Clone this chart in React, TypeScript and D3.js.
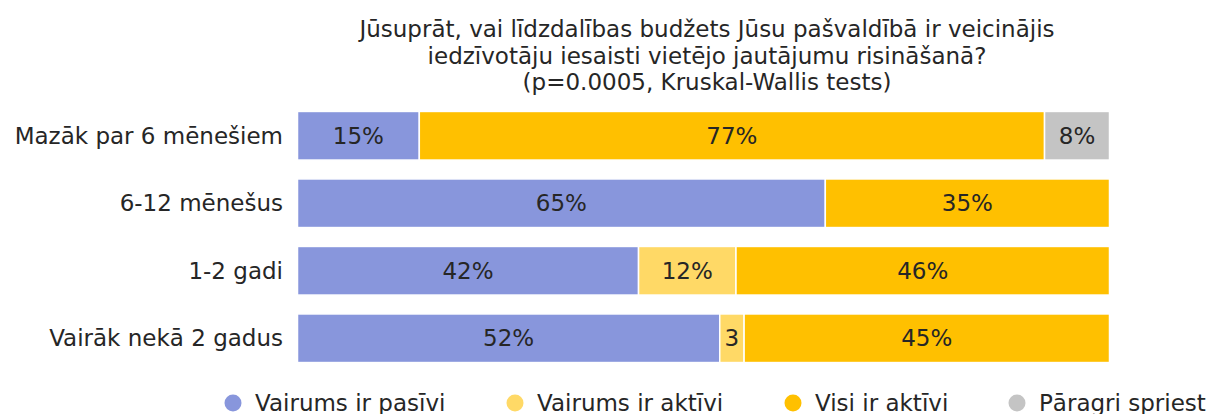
import React, { useEffect, useRef } from 'react';
import * as d3 from 'd3';

const categories = ['Mazāk par 6 mēnešiem', '6-12 mēnešus', '1-2 gadi', 'Vairāk nekā 2 gadus'];
const seriesNames = ['Vairums ir pasīvi', 'Vairums ir aktīvi', 'Visi ir aktīvi', 'Pāragri spriest'];
const seriesColors = ['#8896dc', '#ffd966', '#ffc000', '#c4c4c4'];
// percentages per category, in the order of seriesNames
const pasivi = [15, 65, 42, 52];
const aktiviVairums = [0, 0, 12, 3];
const visiAktivi = [77, 35, 46, 45];
const paragri = [8, 0, 0, 0];
const titleLines = [
  'Jūsuprāt, vai līdzdalības budžets Jūsu pašvaldībā ir veicinājis',
  'iedzīvotāju iesaisti vietējo jautājumu risināšanā?',
  '(p=0.0005, Kruskal-Wallis tests)',
];

const W = 1208;
const H = 414;
const FONT = 'DejaVu Sans, sans-serif';
const FS = 23;

export default function App() {
  const ref = useRef<SVGSVGElement>(null);

  useEffect(() => {
    const svg = d3.select(ref.current);
    svg.selectAll('*').remove();

    const series = [pasivi, aktiviVairums, visiAktivi, paragri];
    const rows = categories.map((c, i) => {
      const r: any = { cat: c };
      seriesNames.forEach((s, j) => (r[s] = series[j][i]));
      return r;
    });
    const stacked = d3.stack().keys(seriesNames)(rows);

    const x = d3.scaleLinear().domain([0, 100]).range([297.5, 1109.5]);
    const y = d3.scaleBand().domain(categories).range([102, 372]).paddingInner(0.28).paddingOuter(0.14);

    // title
    svg.append('g')
      .selectAll('text')
      .data(titleLines)
      .join('text')
      .attr('x', 707)
      .attr('y', (d, i) => 37 + i * 26.5)
      .attr('text-anchor', 'middle')
      .attr('font-family', FONT)
      .attr('font-size', FS)
      .attr('fill', '#262626')
      .text(d => d);

    // category labels
    svg.append('g')
      .selectAll('text')
      .data(categories)
      .join('text')
      .attr('x', 283)
      .attr('y', d => y(d)! + y.bandwidth() / 2)
      .attr('dy', '0.35em')
      .attr('text-anchor', 'end')
      .attr('font-family', FONT)
      .attr('font-size', FS)
      .attr('fill', '#262626')
      .text(d => d);

    const layers = svg.append('g')
      .selectAll('g')
      .data(stacked)
      .join('g')
      .attr('fill', (d, i) => seriesColors[i]);

    layers.selectAll('rect')
      .data(d => d.filter(p => p[1] - p[0] > 0))
      .join('rect')
      .attr('x', p => x(p[0]))
      .attr('y', p => y(p.data.cat as string)!)
      .attr('width', p => x(p[1]) - x(p[0]))
      .attr('height', y.bandwidth())
      .attr('stroke', '#fff')
      .attr('stroke-width', 1.5);

    layers.selectAll('text')
      .data(d => d.filter(p => p[1] - p[0] > 0))
      .join('text')
      .attr('x', p => (x(p[0]) + x(p[1])) / 2)
      .attr('y', p => y(p.data.cat as string)! + y.bandwidth() / 2)
      .attr('dy', '0.35em')
      .attr('text-anchor', 'middle')
      .attr('font-family', FONT)
      .attr('font-size', FS)
      .attr('fill', '#262626')
      .text(p => {
        const v = p[1] - p[0];
        return v < 5 ? `${v}` : `${v}%`;
      });

    // legend
    const legendX = [233, 515, 793, 1017];
    const legend = svg.append('g')
      .selectAll('g')
      .data(seriesNames)
      .join('g')
      .attr('transform', (d, i) => `translate(${legendX[i]},403)`);
    legend.append('circle').attr('r', 8.5).attr('fill', (d, i) => seriesColors[i]);
    legend.append('text')
      .attr('x', 22)
      .attr('dy', '0.35em')
      .attr('font-family', FONT)
      .attr('font-size', FS)
      .attr('fill', '#262626')
      .text(d => d);
  }, []);

  return <svg ref={ref} width={W} height={H} style={{ position: 'absolute', left: 0, top: 0 }} />;
}
